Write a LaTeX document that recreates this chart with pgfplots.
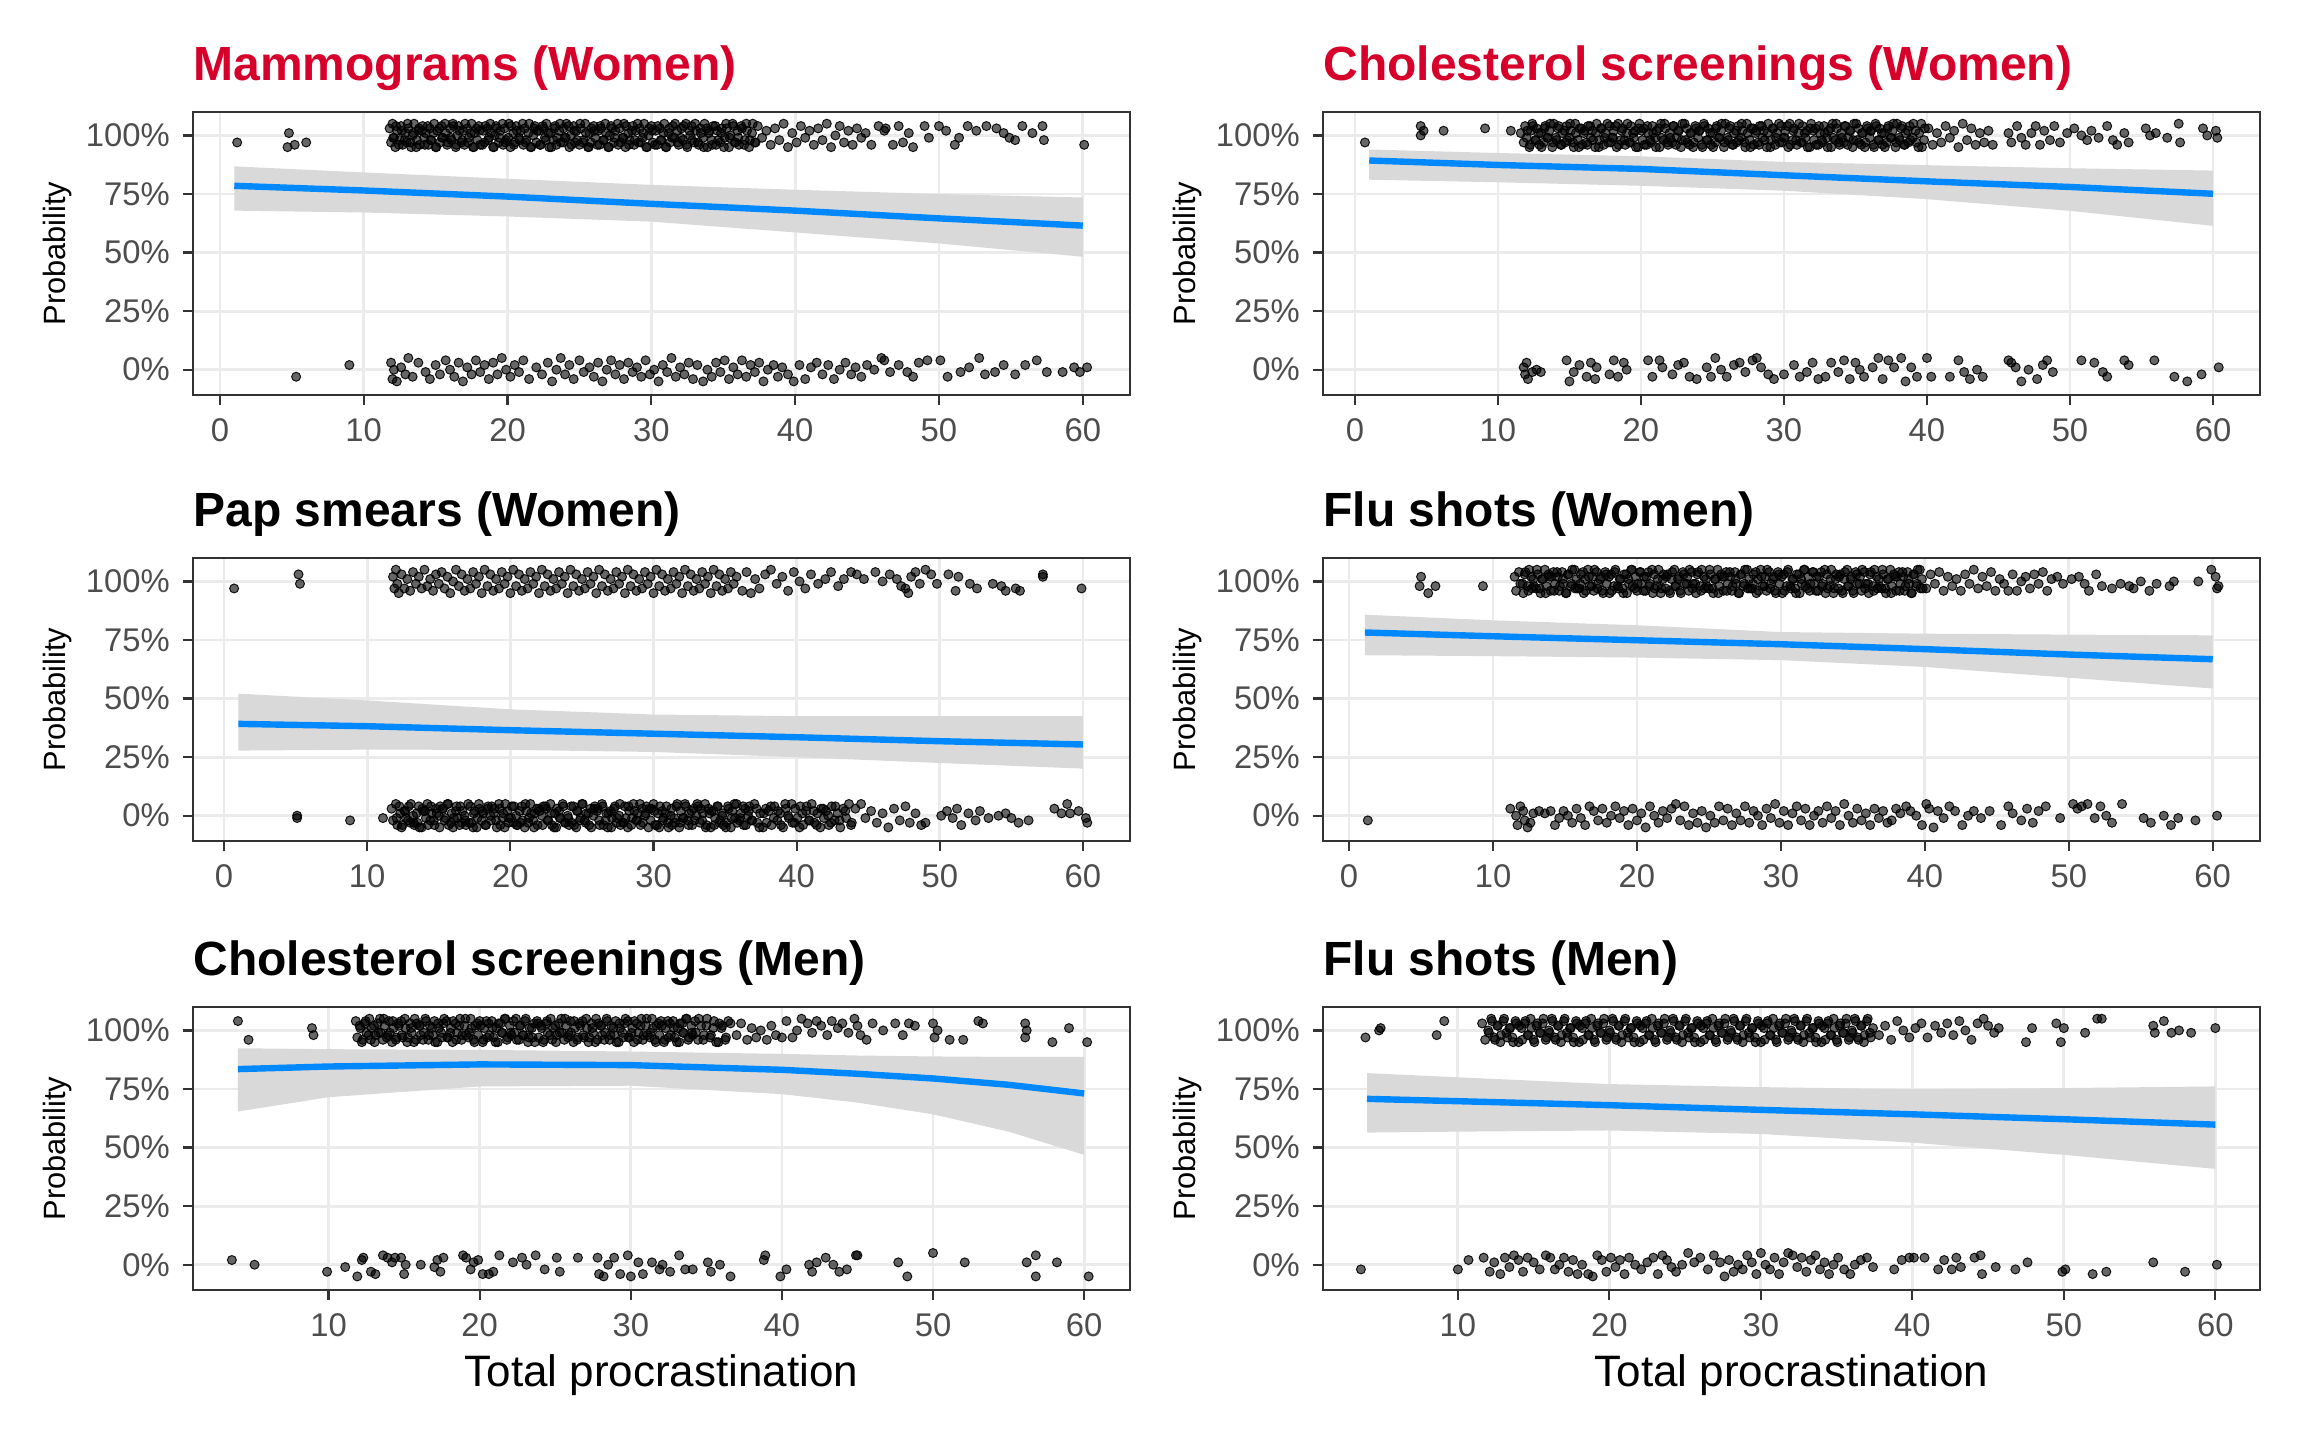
\documentclass[border=0pt]{standalone}
\usepackage{fontspec}
\setmainfont{Liberation Sans}
\usepackage{pgfplots}
\pgfplotsset{compat=1.18}
\definecolor{titlered}{RGB}{215,0,42}
\definecolor{smoothblue}{RGB}{0,136,255}
\definecolor{bandgray}{RGB}{217,217,217}
\definecolor{gridgray}{RGB}{235,235,235}
\definecolor{axisgray}{RGB}{51,51,51}
\definecolor{ticklab}{RGB}{77,77,77}
\pgfplotsset{
  panel/.style={
    width=234.4pt, height=70.75pt, scale only axis, anchor=south west,
    ymin=-0.108, ymax=1.10,
    ytick={0,0.25,0.5,0.75,1}, yticklabels={0\%,25\%,50\%,75\%,100\%},
    xtick={0,10,20,30,40,50,60}, xticklabels={0,10,20,30,40,50,60},
    xmajorgrids, ymajorgrids,
    grid style={gridgray, line width=0.7pt},
    axis line style={axisgray, line width=0.5pt},
    tick align=outside, xtick pos=left, ytick pos=left,
    major tick length=2.5pt,
    tick style={axisgray, line width=0.55pt},
    tick label style={font=\fontsize{8.2}{9}\selectfont, text=ticklab, inner sep=0pt},
    xticklabel style={yshift=-3.25pt},
    yticklabel style={xshift=-3pt},
    /pgf/number format/assume math mode=true,
  },
  pts/.style={only marks, mark=*, mark size=1.12pt, mark options={fill=black, fill opacity=0.6, draw=black, draw opacity=0.9, line width=0.25pt}},
  band/.style={fill=bandgray, draw=none},
  fit/.style={smoothblue, line width=1.6pt, no marks},
}
\tikzset{
  ttl/.style={anchor=base west, inner sep=0pt, font=\fontsize{12}{14}\selectfont\bfseries},
  ylab/.style={rotate=90, anchor=base, inner sep=0pt, font=\fontsize{7.7}{9}\selectfont},
}
\begin{document}
\begin{tikzpicture}
\useasboundingbox (0,0) rectangle (576pt,360pt);
% ---------------- Panel 1: Mammograms (Women)
\begin{axis}[panel, name=p1, at={(48.15pt,261.25pt)}, xmin=-1.9, xmax=63.3]
\addplot[band] coordinates {(1,0.868)(10,0.842)(20,0.815)(30,0.789)(40,0.768)(50,0.750)(60,0.735)(60,0.482)(50,0.539)(40,0.586)(30,0.632)(20,0.654)(10,0.671)(1,0.679)};
\addplot[pts] coordinates {(1.2,0.97)(4.7,0.95)(4.8,1.01)(5.2,0.96)(6.0,0.97)
(11.8,1.03)(11.9,0.97)(12.0,1.05)(12.1,0.99)(12.2,0.95)(12.3,1.02)(12.5,0.98)(12.6,1.04)(12.7,0.96)(12.9,1.01)(13.0,0.97)(13.1,1.03)(13.3,0.95)(13.4,1.00)(13.5,1.05)(13.7,0.98)(13.8,1.02)(13.9,0.96)(14.1,1.04)(14.2,0.99)(14.3,1.01)(14.5,0.96)(14.6,1.03)(14.7,0.98)(14.9,1.05)(15.0,0.95)(15.1,1.02)(15.3,0.97)(15.4,1.04)(15.5,0.99)(15.7,1.01)(15.8,0.96)(16.0,1.03)(16.1,0.98)(16.2,1.05)(16.4,0.95)(16.5,1.00)(16.6,1.04)(16.8,0.97)(16.9,1.02)(17.0,0.96)(17.2,1.03)(17.3,0.99)(17.5,1.05)(17.6,0.95)(17.7,1.01)(17.9,0.98)(18.0,1.04)(18.1,0.96)(18.3,1.02)(18.4,0.97)(18.6,1.03)(18.7,0.99)(18.8,1.05)(19.0,0.95)(19.1,1.00)(19.2,1.04)(19.4,0.97)(19.5,1.02)(19.7,0.96)(19.8,1.03)(19.9,0.98)
(20.1,1.05)(20.2,0.95)(20.4,1.01)(20.5,0.97)(20.6,1.04)(20.8,0.99)(20.9,1.02)(21.1,0.96)(21.2,1.03)(21.3,0.98)(21.5,1.05)(21.6,0.95)(21.8,1.00)(21.9,1.04)(22.0,0.97)(22.2,1.02)(22.3,0.96)(22.5,1.03)(22.6,0.99)(22.7,1.05)(22.9,0.95)(23.0,1.01)(23.2,0.98)(23.3,1.04)(23.4,0.96)(23.6,1.02)(23.7,0.97)(23.9,1.03)(24.0,0.99)(24.1,1.05)(24.3,0.95)(24.4,1.00)(24.6,1.04)(24.7,0.97)(24.8,1.02)(25.0,0.96)(25.1,1.03)(25.3,0.98)(25.4,1.05)(25.6,0.95)(25.7,1.01)(25.8,0.97)(26.0,1.04)(26.1,0.99)(26.3,1.02)(26.4,0.96)(26.5,1.03)(26.7,0.98)(26.8,1.05)(27.0,0.95)(27.1,1.00)(27.2,1.04)(27.4,0.97)(27.5,1.02)(27.7,0.96)(27.8,1.03)(28.0,0.99)(28.1,1.05)(28.2,0.95)(28.4,1.01)(28.5,0.98)(28.7,1.04)(28.8,0.96)(28.9,1.02)(29.1,0.97)(29.2,1.03)(29.4,0.99)(29.5,1.05)(29.7,0.95)(29.8,1.00)
(30.0,1.04)(30.1,0.97)(30.3,1.02)(30.4,0.96)(30.6,1.03)(30.7,0.98)(30.9,1.05)(31.0,0.95)(31.2,1.01)(31.3,0.97)(31.5,1.04)(31.6,0.99)(31.8,1.02)(31.9,0.96)(32.1,1.03)(32.2,0.98)(32.4,1.05)(32.5,0.95)(32.7,1.00)(32.8,1.04)(33.0,0.97)(33.1,1.02)(33.3,0.96)(33.4,1.03)(33.6,0.99)(33.7,1.05)(33.9,0.95)(34.0,1.01)(34.2,0.98)(34.3,1.04)(34.5,0.96)(34.6,1.02)(34.8,0.97)(34.9,1.03)(35.1,0.99)(35.2,1.05)(35.4,0.95)(35.5,1.00)(35.7,1.04)(35.8,0.97)(36.0,1.02)(36.1,0.96)(36.3,1.03)(36.5,0.98)(36.6,1.05)(36.8,0.95)(37.0,1.01)(37.2,0.97)(37.4,1.04)
(37.7,0.99)(38.0,1.02)(38.3,0.96)(38.6,1.03)(38.9,0.98)(39.2,1.05)(39.5,0.95)(39.8,1.01)(40.1,0.97)(40.4,1.04)(40.7,0.99)(41.0,1.02)(41.3,0.96)(41.6,1.03)(41.9,0.98)(42.2,1.05)(42.5,0.95)(42.8,1.00)(43.1,1.04)(43.4,0.97)(43.7,1.02)(44.0,0.96)(44.3,1.03)(44.6,0.99)(44.9,1.01)(45.3,0.96)(45.8,1.04)(46.2,1.02)(46.3,1.03)(46.8,0.96)(47.2,1.04)(47.5,0.97)(47.9,1.01)(48.2,0.95)
(49.0,1.04)(49.3,0.99)(50.0,1.04)(50.5,1.02)(51.1,0.96)(51.4,0.99)(52.0,1.04)(52.6,1.02)(53.3,1.04)(54.0,1.03)(54.5,1.01)(54.9,0.99)(55.3,0.98)(55.8,1.04)(56.5,1.01)(57.2,1.04)(57.3,0.98)(60.1,0.96)};
\addplot[pts] coordinates {(12.05,0.99)(12.25,1.04)(12.45,0.96)(12.65,1.02)(12.85,0.98)(13.05,1.05)(13.25,0.97)(13.45,1.01)(13.65,0.95)(13.85,1.03)
(14.05,1.02)(14.25,0.96)(14.45,1.04)(14.65,0.98)(14.85,1.01)(15.05,0.95)(15.25,1.03)(15.45,0.99)(15.65,1.05)(15.85,0.97)
(16.05,0.99)(16.25,1.04)(16.45,0.96)(16.65,1.02)(16.85,0.98)(17.05,1.05)(17.25,0.97)(17.45,1.01)(17.65,0.95)(17.85,1.03)
(18.05,1.02)(18.25,0.96)(18.45,1.04)(18.65,0.98)(18.85,1.01)(19.05,0.95)(19.25,1.03)(19.45,0.99)(19.65,1.05)(19.85,0.97)
(20.05,0.99)(20.25,1.04)(20.45,0.96)(20.65,1.02)(20.85,0.98)(21.05,1.05)(21.25,0.97)(21.45,1.01)(21.65,0.95)(21.85,1.03)
(22.05,1.02)(22.25,0.96)(22.45,1.04)(22.65,0.98)(22.85,1.01)(23.05,0.95)(23.25,1.03)(23.45,0.99)(23.65,1.05)(23.85,0.97)
(24.05,0.99)(24.25,1.04)(24.45,0.96)(24.65,1.02)(24.85,0.98)(25.05,1.05)(25.25,0.97)(25.45,1.01)(25.65,0.95)(25.85,1.03)
(26.05,1.02)(26.25,0.96)(26.45,1.04)(26.65,0.98)(26.85,1.01)(27.05,0.95)(27.25,1.03)(27.45,0.99)(27.65,1.05)(27.85,0.97)
(28.05,0.99)(28.25,1.04)(28.45,0.96)(28.65,1.02)(28.85,0.98)(29.05,1.05)(29.25,0.97)(29.45,1.01)(29.65,0.95)(29.85,1.03)
(30.05,1.02)(30.25,0.96)(30.45,1.04)(30.65,0.98)(30.85,1.01)(31.05,0.95)(31.25,1.03)(31.45,0.99)(31.65,1.05)(31.85,0.97)
(32.05,0.99)(32.25,1.04)(32.45,0.96)(32.65,1.02)(32.85,0.98)(33.05,1.05)(33.25,0.97)(33.45,1.01)(33.65,0.95)(33.85,1.03)
(34.05,1.02)(34.25,0.96)(34.45,1.04)(34.65,0.98)(34.85,1.01)(35.05,0.95)(35.25,1.03)(35.45,0.99)(35.65,1.05)(35.85,0.97)
(36.05,0.99)(36.25,1.04)(36.45,0.96)(36.65,1.02)(36.85,0.98)(37.05,1.05)(37.25,0.97)};
\addplot[pts] coordinates {(5.3,-0.03)(9.0,0.02)
(11.9,0.03)(12.0,-0.04)(12.1,0.00)(12.3,-0.05)(12.6,0.01)(12.9,-0.02)(13.1,0.05)(13.4,-0.03)(13.8,0.03)(14.3,-0.01)(14.6,-0.04)(15.0,0.02)(15.3,-0.02)(15.7,0.04)(16.0,0.00)(16.3,-0.03)(16.6,0.03)(16.9,-0.05)(17.2,0.01)(17.5,-0.02)(17.8,0.04)(18.1,-0.01)(18.4,0.02)(18.7,-0.04)(19.0,0.03)(19.3,-0.02)(19.6,0.05)(19.9,0.00)(20.2,-0.03)(20.5,0.02)(20.8,-0.01)(21.1,0.04)(21.5,-0.04)(22.0,0.01)(22.4,-0.02)(22.8,0.03)(23.1,-0.05)(23.4,0.00)(23.7,0.05)(24.0,-0.02)(24.3,0.02)(24.6,-0.04)(25.0,0.04)(25.3,-0.01)(25.7,0.01)(26.0,-0.03)(26.3,0.03)(26.6,-0.05)(26.9,0.00)(27.2,0.04)(27.5,-0.02)(27.8,0.02)(28.1,-0.04)(28.4,0.03)(28.7,-0.01)(29.0,0.01)(29.3,-0.03)(29.6,0.04)(29.9,-0.02)(30.2,0.00)(30.5,-0.05)(30.8,0.02)(31.1,-0.01)(31.4,0.05)(31.7,-0.03)(32.0,0.01)(32.3,-0.02)(32.6,0.03)(32.9,-0.04)(33.2,0.02)(33.6,-0.05)(33.9,0.00)(34.2,-0.03)(34.5,0.03)(34.8,-0.01)(35.1,0.04)(35.4,-0.04)(35.7,0.01)(36.0,-0.02)(36.3,0.04)(36.6,-0.03)(36.9,0.02)(37.2,-0.01)(37.5,0.03)(37.8,-0.05)(38.1,0.00)(38.5,0.02)(38.8,-0.03)(39.1,0.01)(39.5,-0.02)(39.9,-0.05)(40.3,0.02)(40.7,-0.04)(41.1,0.01)(41.5,0.03)(41.9,-0.02)(42.3,0.02)(42.7,-0.04)(43.1,0.00)(43.5,0.03)(43.9,-0.02)(44.2,0.01)(44.6,-0.03)(45.0,0.02)(45.5,0.00)(46.0,0.05)(46.2,0.04)(46.6,-0.01)(47.2,0.02)(47.8,-0.01)(48.2,-0.03)(48.6,0.03)(49.2,0.04)(50.1,0.04)(50.6,-0.03)(51.5,-0.01)(52.1,0.01)(52.8,0.05)(53.2,-0.02)(53.9,-0.01)(54.5,0.02)(55.3,-0.02)(56.0,0.02)(56.8,0.04)(57.5,-0.01)(58.6,-0.01)(59.4,0.01)(59.8,-0.01)(60.3,0.01)};
\addplot[fit] coordinates {(1,0.785)(10,0.765)(20,0.739)(30,0.708)(40,0.679)(50,0.646)(60,0.615)};
\end{axis}
% ---------------- Panel 2: Cholesterol screenings (Women)
\begin{axis}[panel, name=p2, at={(330.65pt,261.25pt)}, xmin=-2.26, xmax=63.3]
\addplot[band] coordinates {(1,0.94)(10,0.925)(20,0.911)(30,0.887)(40,0.873)(50,0.86)(60,0.85)(60,0.614)(50,0.678)(40,0.728)(30,0.764)(20,0.785)(10,0.80)(1,0.811)};
\addplot[pts] coordinates {(0.7,0.97)(4.6,1.04)(4.6,1.00)(4.8,1.02)(6.2,1.02)(9.1,1.03)(10.9,1.02)
(11.6,1.01)(11.8,0.97)(11.9,1.04)(12.0,0.99)(12.2,0.95)(12.3,1.02)(12.4,1.05)(12.6,0.98)(12.7,1.03)(12.9,0.96)(13.0,1.01)(13.2,0.97)(13.3,1.04)(13.5,0.99)(13.6,1.02)(13.8,0.95)(13.9,1.05)(14.1,0.98)(14.2,1.03)(14.4,0.96)(14.5,1.01)(14.7,0.97)(14.8,1.04)(15.0,0.99)(15.1,1.02)(15.3,0.95)(15.4,1.05)(15.6,0.98)(15.7,1.03)(15.9,0.96)(16.0,1.01)(16.2,0.97)(16.3,1.04)(16.5,0.99)(16.6,1.02)(16.8,0.95)(16.9,1.05)(17.1,0.98)(17.2,1.03)(17.4,0.96)(17.5,1.01)(17.7,0.97)(17.8,1.04)(18.0,0.99)(18.1,1.02)(18.3,0.95)(18.4,1.05)(18.6,0.98)(18.7,1.03)(18.9,0.96)(19.0,1.01)(19.2,0.97)(19.3,1.04)(19.5,0.99)(19.6,1.02)(19.8,0.95)(19.9,1.05)
(20.1,0.98)(20.2,1.03)(20.4,0.96)(20.5,1.01)(20.7,0.97)(20.8,1.04)(21.0,0.99)(21.1,1.02)(21.3,0.95)(21.4,1.05)(21.6,0.98)(21.7,1.03)(21.9,0.96)(22.0,1.01)(22.2,0.97)(22.3,1.04)(22.5,0.99)(22.6,1.02)(22.8,0.95)(22.9,1.05)(23.1,0.98)(23.2,1.03)(23.4,0.96)(23.5,1.01)(23.7,0.97)(23.8,1.04)(24.0,0.99)(24.1,1.02)(24.3,0.95)(24.4,1.05)(24.6,0.98)(24.7,1.03)(24.9,0.96)(25.0,1.01)(25.2,0.97)(25.3,1.04)(25.5,0.99)(25.6,1.02)(25.8,0.95)(25.9,1.05)(26.1,0.98)(26.2,1.03)(26.4,0.96)(26.5,1.01)(26.7,0.97)(26.8,1.04)(27.0,0.99)(27.1,1.02)(27.3,0.95)(27.4,1.05)(27.6,0.98)(27.7,1.03)(27.9,0.96)(28.0,1.01)(28.2,0.97)(28.3,1.04)(28.5,0.99)(28.6,1.02)(28.8,0.95)(28.9,1.05)(29.1,0.98)(29.2,1.03)(29.4,0.96)(29.5,1.01)(29.7,0.97)(29.8,1.04)
(30.0,0.99)(30.1,1.02)(30.3,0.95)(30.4,1.05)(30.6,0.98)(30.7,1.03)(30.9,0.96)(31.0,1.01)(31.2,0.97)(31.3,1.04)(31.5,0.99)(31.6,1.02)(31.8,0.95)(31.9,1.05)(32.1,0.98)(32.2,1.03)(32.4,0.96)(32.5,1.01)(32.7,0.97)(32.8,1.04)(33.0,0.99)(33.1,1.02)(33.3,0.95)(33.4,1.05)(33.6,0.98)(33.7,1.03)(33.9,0.96)(34.0,1.01)(34.2,0.97)(34.3,1.04)(34.5,0.99)(34.6,1.02)(34.8,0.95)(34.9,1.05)(35.1,0.98)(35.2,1.03)(35.4,0.96)(35.5,1.01)(35.7,0.97)(35.8,1.04)(36.0,0.99)(36.1,1.02)(36.3,0.95)(36.4,1.05)(36.6,0.98)(36.7,1.03)(36.9,0.96)(37.0,1.01)(37.2,0.97)(37.3,1.04)(37.5,0.99)(37.6,1.02)(37.8,0.95)(37.9,1.05)(38.1,0.98)(38.2,1.03)(38.4,0.96)(38.5,1.01)(38.7,0.97)(38.8,1.04)(39.0,0.99)(39.2,1.02)(39.4,0.95)(39.6,1.05)(39.8,0.98)
(40.1,1.03)(40.4,0.96)(40.7,1.01)(41.0,0.97)(41.3,1.04)(41.6,0.99)(41.9,1.02)(42.2,0.95)(42.5,1.05)(42.8,0.98)(43.1,1.03)(43.4,0.96)(43.7,1.01)(44.0,0.97)(44.3,1.02)(44.6,0.96)(45.7,1.01)(45.9,0.97)(46.3,1.04)(46.6,0.99)(46.9,0.96)(47.3,1.01)(47.6,1.04)(47.9,0.96)(48.2,1.02)(48.6,0.98)(48.9,1.04)(49.3,0.97)(49.8,1.01)
(50.3,1.03)(50.8,1.00)(51.2,0.98)(51.5,1.02)(52.0,0.99)(52.6,1.04)(53.0,0.98)(53.3,0.96)(53.8,1.01)(54.1,0.97)(55.3,1.03)(55.6,1.00)(56.0,1.01)(56.8,0.99)(57.6,1.05)(57.7,0.97)(59.3,1.03)(59.6,1.00)(60.2,1.02)(60.3,0.99)};
\addplot[pts] coordinates {(12.05,1.02)(12.25,0.96)(12.45,1.04)(12.65,0.98)(12.85,1.01)(13.05,0.95)(13.25,1.03)(13.45,0.99)(13.65,1.05)(13.85,0.97)
(14.05,0.99)(14.25,1.04)(14.45,0.96)(14.65,1.02)(14.85,0.98)(15.05,1.05)(15.25,0.97)(15.45,1.01)(15.65,0.95)(15.85,1.03)
(16.05,1.02)(16.25,0.96)(16.45,1.04)(16.65,0.98)(16.85,1.01)(17.05,0.95)(17.25,1.03)(17.45,0.99)(17.65,1.05)(17.85,0.97)
(18.05,0.99)(18.25,1.04)(18.45,0.96)(18.65,1.02)(18.85,0.98)(19.05,1.05)(19.25,0.97)(19.45,1.01)(19.65,0.95)(19.85,1.03)
(20.05,1.02)(20.25,0.96)(20.45,1.04)(20.65,0.98)(20.85,1.01)(21.05,0.95)(21.25,1.03)(21.45,0.99)(21.65,1.05)(21.85,0.97)
(22.05,0.99)(22.25,1.04)(22.45,0.96)(22.65,1.02)(22.85,0.98)(23.05,1.05)(23.25,0.97)(23.45,1.01)(23.65,0.95)(23.85,1.03)
(24.05,1.02)(24.25,0.96)(24.45,1.04)(24.65,0.98)(24.85,1.01)(25.05,0.95)(25.25,1.03)(25.45,0.99)(25.65,1.05)(25.85,0.97)
(26.05,0.99)(26.25,1.04)(26.45,0.96)(26.65,1.02)(26.85,0.98)(27.05,1.05)(27.25,0.97)(27.45,1.01)(27.65,0.95)(27.85,1.03)
(28.05,1.02)(28.25,0.96)(28.45,1.04)(28.65,0.98)(28.85,1.01)(29.05,0.95)(29.25,1.03)(29.45,0.99)(29.65,1.05)(29.85,0.97)
(30.05,0.99)(30.25,1.04)(30.45,0.96)(30.65,1.02)(30.85,0.98)(31.05,1.05)(31.25,0.97)(31.45,1.01)(31.65,0.95)(31.85,1.03)
(32.05,1.02)(32.25,0.96)(32.45,1.04)(32.65,0.98)(32.85,1.01)(33.05,0.95)(33.25,1.03)(33.45,0.99)(33.65,1.05)(33.85,0.97)
(34.05,0.99)(34.25,1.04)(34.45,0.96)(34.65,1.02)(34.85,0.98)(35.05,1.05)(35.25,0.97)(35.45,1.01)(35.65,0.95)(35.85,1.03)
(36.05,1.02)(36.25,0.96)(36.45,1.04)(36.65,0.98)(36.85,1.01)(37.05,0.95)(37.25,1.03)(37.45,0.99)(37.65,1.05)(37.85,0.97)
(38.05,0.99)(38.25,1.04)(38.45,0.96)(38.65,1.02)(38.85,0.98)(39.05,1.05)(39.25,0.97)(39.45,1.01)(39.65,0.95)(39.85,1.03)};
\addplot[pts] coordinates {(11.8,0.01)(11.9,-0.02)(12.0,0.03)(12.1,-0.04)(12.4,-0.01)(12.7,0.00)(13.0,-0.01)(14.8,0.04)(15.0,-0.05)(15.3,-0.01)(15.7,0.02)(16.2,-0.03)(16.5,0.03)(16.8,-0.04)(16.9,0.01)(17.8,-0.02)(18.1,0.04)(18.4,-0.03)(18.8,0.03)(19.0,0.00)(20.5,0.04)(20.8,-0.03)(21.3,0.04)(21.5,0.01)(22.2,-0.02)(22.6,0.02)(23.0,0.03)(23.4,-0.03)(23.9,-0.04)(24.6,0.01)(24.9,-0.03)(25.2,0.05)(25.6,0.00)(26.0,-0.03)(26.5,0.02)(26.9,0.03)(27.3,-0.01)(27.8,0.04)(28.1,0.05)(28.4,0.01)(28.9,-0.02)(29.3,-0.04)(30.0,-0.02)(30.7,0.02)(31.1,-0.03)(31.6,-0.01)(32.0,0.03)(32.4,-0.04)(32.9,-0.03)(33.3,0.03)(33.8,-0.01)(34.2,0.04)(34.6,-0.04)(35.0,0.03)(35.3,0.00)(35.6,-0.03)(36.2,0.01)(36.6,0.05)(36.9,-0.04)(37.3,0.04)(37.7,0.01)(38.2,0.05)(38.5,-0.05)(38.9,0.01)(39.3,-0.03)(40.0,0.05)(40.3,-0.03)(41.6,-0.03)(42.2,0.04)(42.6,-0.01)(43.0,-0.04)(43.5,0.00)(43.9,-0.03)(45.7,0.04)(45.9,0.03)(46.2,0.01)(46.6,-0.05)(47.1,0.00)(47.7,-0.04)(48.1,0.02)(48.4,0.04)(48.8,-0.01)(50.8,0.04)(51.7,0.03)(52.3,-0.01)(52.6,-0.03)(53.8,0.04)(54.1,0.02)(55.9,0.04)(57.3,-0.03)(58.2,-0.05)(59.2,-0.02)(60.4,0.01)};
\addplot[fit] coordinates {(1,0.893)(10,0.874)(20,0.857)(30,0.83)(40,0.804)(50,0.78)(60,0.751)};
\end{axis}
% ---------------- Panel 3: Pap smears (Women)
\begin{axis}[panel, name=p3, at={(48.15pt,149.75pt)}, xmin=-2.2, xmax=63.3]
\addplot[band] coordinates {(1,0.521)(10,0.492)(20,0.454)(30,0.432)(40,0.425)(50,0.425)(60,0.425)(60,0.201)(50,0.225)(40,0.25)(30,0.272)(20,0.281)(10,0.282)(1,0.278)};
\addplot[pts] coordinates {(0.7,0.97)(5.2,1.03)(5.3,0.99)
(11.8,1.02)(11.9,0.97)(12.0,1.05)(12.1,0.99)(12.2,0.95)(12.4,1.03)(12.6,0.97)(12.8,1.01)(13.0,0.96)(13.2,1.04)(13.4,0.99)(13.6,1.02)(13.8,0.97)(14.0,1.05)(14.2,0.98)(14.4,1.01)(14.6,0.96)(14.8,1.03)(15.0,0.99)(15.2,1.04)(15.4,0.97)(15.6,1.02)(15.8,0.95)(16.0,1.00)(16.2,1.05)(16.4,0.98)(16.6,1.03)(16.8,0.96)(17.0,1.01)(17.2,0.97)(17.4,1.04)(17.6,0.99)(17.8,1.02)(18.0,0.95)(18.2,1.05)(18.4,0.98)(18.6,1.03)(18.8,0.96)(19.0,1.01)(19.2,0.97)(19.4,1.04)(19.6,0.99)(19.8,1.02)(20.0,0.95)(20.2,1.05)(20.4,0.98)(20.6,1.03)(20.8,0.96)(21.0,1.01)(21.2,0.97)(21.4,1.04)(21.6,0.99)(21.8,1.02)(22.0,0.95)(22.2,1.05)(22.4,0.98)(22.6,1.03)(22.8,0.96)(23.0,1.01)(23.2,0.97)(23.4,1.04)(23.6,0.99)(23.8,1.02)(24.0,0.95)(24.2,1.05)(24.4,0.98)(24.6,1.03)(24.8,0.96)(25.0,1.01)(25.2,0.97)(25.4,1.04)(25.6,0.99)(25.8,1.02)(26.0,0.95)(26.2,1.05)(26.4,0.98)(26.6,1.03)(26.8,0.96)(27.0,1.01)(27.2,0.97)(27.4,1.04)(27.6,0.99)(27.8,1.02)(28.0,0.95)(28.2,1.05)(28.4,0.98)(28.6,1.03)(28.8,0.96)(29.0,1.01)(29.2,0.97)(29.4,1.04)(29.6,0.99)(29.8,1.02)(30.0,0.95)(30.2,1.05)(30.4,0.98)(30.6,1.03)(30.8,0.96)(31.0,1.01)(31.2,0.97)(31.4,1.04)(31.6,0.99)(31.8,1.02)(32.0,0.95)(32.2,1.05)(32.4,0.98)(32.6,1.03)(32.8,0.96)(33.0,1.01)(33.2,0.97)(33.4,1.04)(33.6,0.99)(33.8,1.02)(34.0,0.95)(34.2,1.05)(34.4,0.98)(34.6,1.03)(34.8,0.96)(35.0,1.01)(35.2,0.97)(35.4,1.04)(35.6,0.99)(35.8,1.02)
(36.2,0.96)(36.5,1.04)(36.8,0.95)(37.1,1.01)(37.4,0.97)(37.8,1.03)(38.2,1.05)(38.6,0.99)(39.0,1.02)(39.4,0.96)(39.8,1.04)(40.2,1.00)(40.6,0.97)(41.0,1.03)(41.5,0.99)(42.0,1.01)(42.4,1.04)(42.9,0.98)(43.3,1.01)(43.8,1.04)(44.2,1.03)(44.7,1.01)(45.5,1.04)(46.0,1.00)(46.5,1.03)(47.0,1.01)(47.3,0.98)(47.6,0.97)(47.8,0.95)(48.0,1.02)(48.3,1.04)(48.6,0.99)(49.0,1.05)(49.4,1.03)(49.8,0.99)
(50.6,1.03)(51.3,1.02)(51.1,0.96)(52.1,0.99)(52.6,0.97)(53.7,0.99)(54.3,0.98)(54.6,0.96)(55.3,0.97)(55.6,0.96)(57.2,1.03)(57.2,1.02)(59.9,0.97)};
\addplot[pts] coordinates {(5.1,0.00)(5.1,-0.01)(8.8,-0.02)(11.1,-0.01)
(11.7,0.03)(11.8,-0.02)(12.0,0.05)(12.1,-0.04)(12.3,0.01)(12.4,-0.05)(12.6,0.02)(12.7,-0.01)(12.9,0.04)(13.0,-0.03)(13.2,0.00)(13.3,-0.04)
(13.5,-0.03)(13.6,0.04)(13.8,-0.05)(13.9,0.02)(14.1,-0.01)(14.2,0.05)(14.4,-0.02)(14.5,0.01)(14.7,-0.04)(14.8,0.03)(15.0,0.00)(15.1,0.04)
(15.3,0.03)(15.4,-0.02)(15.6,0.05)(15.7,-0.04)(15.9,0.01)(16.0,-0.05)(16.2,0.02)(16.3,-0.01)(16.5,0.04)(16.6,-0.03)(16.8,0.00)(16.9,-0.04)
(17.1,-0.03)(17.2,0.04)(17.4,-0.05)(17.5,0.02)(17.7,-0.01)(17.8,0.05)(18.0,-0.02)(18.1,0.01)(18.3,-0.04)(18.4,0.03)(18.6,0.00)(18.7,0.04)
(18.9,0.03)(19.0,-0.02)(19.2,0.05)(19.3,-0.04)(19.5,0.01)(19.6,-0.05)(19.8,0.02)(19.9,-0.01)(20.1,0.04)(20.2,-0.03)(20.4,0.00)(20.5,-0.04)
(20.7,-0.03)(20.8,0.04)(21.0,-0.05)(21.1,0.02)(21.3,-0.01)(21.4,0.05)(21.6,-0.02)(21.7,0.01)(21.9,-0.04)(22.0,0.03)(22.2,0.00)(22.3,0.04)
(22.5,0.03)(22.6,-0.02)(22.8,0.05)(22.9,-0.04)(23.1,0.01)(23.2,-0.05)(23.4,0.02)(23.5,-0.01)(23.7,0.04)(23.8,-0.03)(24.0,0.00)(24.1,-0.04)
(24.3,-0.03)(24.4,0.04)(24.6,-0.05)(24.7,0.02)(24.9,-0.01)(25.0,0.05)(25.2,-0.02)(25.3,0.01)(25.5,-0.04)(25.6,0.03)(25.8,0.00)(25.9,0.04)
(26.1,0.03)(26.2,-0.02)(26.4,0.05)(26.5,-0.04)(26.7,0.01)(26.8,-0.05)(27.0,0.02)(27.1,-0.01)(27.3,0.04)(27.4,-0.03)(27.6,0.00)(27.7,-0.04)
(27.9,-0.03)(28.0,0.04)(28.2,-0.05)(28.3,0.02)(28.5,-0.01)(28.6,0.05)(28.8,-0.02)(28.9,0.01)(29.1,-0.04)(29.2,0.03)(29.4,0.00)(29.5,0.04)
(29.7,0.03)(29.8,-0.02)(30.0,0.05)(30.1,-0.04)(30.3,0.01)(30.4,-0.05)(30.6,0.02)(30.7,-0.01)(30.9,0.04)(31.0,-0.03)(31.2,0.00)(31.3,-0.04)
(31.5,-0.03)(31.6,0.04)(31.8,-0.05)(31.9,0.02)(32.1,-0.01)(32.2,0.05)(32.4,-0.02)(32.5,0.01)(32.7,-0.04)(32.8,0.03)(33.0,0.00)(33.1,0.04)
(33.3,0.03)(33.4,-0.02)(33.6,0.05)(33.7,-0.04)(33.9,0.01)(34.0,-0.05)(34.2,0.02)(34.3,-0.01)(34.5,0.04)(34.6,-0.03)(34.8,0.00)(34.9,-0.04)
(35.1,-0.03)(35.2,0.04)(35.4,-0.05)(35.5,0.02)(35.7,-0.01)(35.8,0.05)(36.0,-0.02)(36.1,0.01)(36.3,-0.04)(36.4,0.03)(36.6,0.00)(36.7,0.04)
(36.9,-0.02)(37.2,0.03)(37.4,-0.05)(37.7,0.01)(37.9,-0.03)(38.2,0.04)(38.4,-0.01)(38.7,0.02)(38.9,-0.04)(39.2,0.05)(39.4,0.00)(39.7,-0.03)(39.9,0.03)(40.2,-0.05)(40.4,0.01)(40.7,0.04)(40.9,-0.02)(41.2,0.02)(41.4,-0.04)(41.7,0.03)(41.9,-0.01)(42.2,0.00)(42.4,-0.03)(42.7,0.04)(43.0,-0.02)(43.4,0.02)(43.8,-0.04)(44.1,0.03)(44.5,0.05)(44.8,-0.01)(45.2,0.02)(45.6,-0.03)(46.0,0.01)(46.4,-0.05)(46.8,0.03)(47.2,-0.02)(47.6,0.04)(47.9,-0.03)(48.3,0.01)(48.7,-0.04)(49.0,-0.03)
(50.1,0.00)(50.5,0.02)(50.9,-0.01)(51.2,0.03)(51.5,-0.04)(52.0,0.01)(52.5,-0.02)(52.8,0.02)(53.4,-0.01)(54.1,0.00)(54.6,0.01)(55.0,-0.01)(55.5,-0.03)(56.2,-0.02)(58.0,0.03)(58.5,0.01)(58.9,0.05)(59.1,0.01)(59.7,0.02)(60.2,-0.01)(60.3,-0.03)};
\addplot[pts] coordinates {(12.05,-0.01)(12.25,0.04)(12.45,-0.04)(12.65,0.02)(12.85,-0.02)(13.05,0.05)(13.25,-0.03)(13.45,0.01)(13.65,-0.05)(13.85,0.03)
(14.05,0.02)(14.25,-0.04)(14.45,0.04)(14.65,-0.02)(14.85,0.01)(15.05,-0.05)(15.25,0.03)(15.45,-0.01)(15.65,0.05)(15.85,-0.03)
(16.05,-0.01)(16.25,0.04)(16.45,-0.04)(16.65,0.02)(16.85,-0.02)(17.05,0.05)(17.25,-0.03)(17.45,0.01)(17.65,-0.05)(17.85,0.03)
(18.05,0.02)(18.25,-0.04)(18.45,0.04)(18.65,-0.02)(18.85,0.01)(19.05,-0.05)(19.25,0.03)(19.45,-0.01)(19.65,0.05)(19.85,-0.03)
(20.05,-0.01)(20.25,0.04)(20.45,-0.04)(20.65,0.02)(20.85,-0.02)(21.05,0.05)(21.25,-0.03)(21.45,0.01)(21.65,-0.05)(21.85,0.03)
(22.05,0.02)(22.25,-0.04)(22.45,0.04)(22.65,-0.02)(22.85,0.01)(23.05,-0.05)(23.25,0.03)(23.45,-0.01)(23.65,0.05)(23.85,-0.03)
(24.05,-0.01)(24.25,0.04)(24.45,-0.04)(24.65,0.02)(24.85,-0.02)(25.05,0.05)(25.25,-0.03)(25.45,0.01)(25.65,-0.05)(25.85,0.03)
(26.05,0.02)(26.25,-0.04)(26.45,0.04)(26.65,-0.02)(26.85,0.01)(27.05,-0.05)(27.25,0.03)(27.45,-0.01)(27.65,0.05)(27.85,-0.03)
(28.05,-0.01)(28.25,0.04)(28.45,-0.04)(28.65,0.02)(28.85,-0.02)(29.05,0.05)(29.25,-0.03)(29.45,0.01)(29.65,-0.05)(29.85,0.03)
(30.05,0.02)(30.25,-0.04)(30.45,0.04)(30.65,-0.02)(30.85,0.01)(31.05,-0.05)(31.25,0.03)(31.45,-0.01)(31.65,0.05)(31.85,-0.03)
(32.05,-0.01)(32.25,0.04)(32.45,-0.04)(32.65,0.02)(32.85,-0.02)(33.05,0.05)(33.25,-0.03)(33.45,0.01)(33.65,-0.05)(33.85,0.03)
(34.05,0.02)(34.25,-0.04)(34.45,0.04)(34.65,-0.02)(34.85,0.01)(35.05,-0.05)(35.25,0.03)(35.45,-0.01)(35.65,0.05)(35.85,-0.03)
(36.05,-0.01)(36.25,0.04)(36.45,-0.04)(36.65,0.02)(36.85,-0.02)(37.05,0.05)(37.25,-0.03)(37.45,0.01)(37.65,-0.05)(37.85,0.03)
(38.05,0.02)(38.25,-0.04)(38.45,0.04)(38.65,-0.02)(38.85,0.01)(39.05,-0.05)(39.25,0.03)(39.45,-0.01)(39.65,0.05)(39.85,-0.03)
(40.05,-0.01)(40.25,0.04)(40.45,-0.04)(40.65,0.02)(40.85,-0.02)(41.05,0.05)(41.25,-0.03)(41.45,0.01)(41.65,-0.05)(41.85,0.03)
(42.05,0.02)(42.25,-0.04)(42.45,0.04)(42.65,-0.02)(42.85,0.01)(43.05,-0.05)(43.25,0.03)(43.45,-0.01)(43.65,0.05)(43.85,-0.03)};
\addplot[fit] coordinates {(1,0.392)(10,0.382)(20,0.365)(30,0.35)(40,0.335)(50,0.318)(60,0.304)};
\end{axis}
% ---------------- Panel 4: Flu shots (Women)
\begin{axis}[panel, name=p4, at={(330.65pt,149.75pt)}, xmin=-1.84, xmax=63.3]
\addplot[band] coordinates {(1.1,0.858)(10,0.834)(20,0.813)(30,0.784)(40,0.777)(50,0.773)(60,0.770)(60,0.543)(50,0.589)(40,0.635)(30,0.664)(20,0.675)(10,0.681)(1.1,0.685)};
\addplot[pts] coordinates {(4.9,0.98)(5.0,1.02)(5.5,0.95)(6.0,0.98)(9.3,0.98)
(11.5,1.02)(11.6,0.96)(11.8,1.04)(11.9,0.99)(12.1,0.95)(12.2,1.03)(12.4,0.98)(12.5,1.05)(12.7,0.97)(12.8,1.01)
(13.0,0.97)(13.1,1.03)(13.3,0.95)(13.4,1.01)(13.6,1.05)(13.7,0.98)(13.9,1.02)(14.0,0.96)(14.2,1.04)(14.3,0.99)
(14.5,1.02)(14.6,0.96)(14.8,1.04)(14.9,0.99)(15.1,0.95)(15.2,1.03)(15.4,0.98)(15.5,1.05)(15.7,0.97)(15.8,1.01)
(16.0,0.97)(16.1,1.03)(16.3,0.95)(16.4,1.01)(16.6,1.05)(16.7,0.98)(16.9,1.02)(17.0,0.96)(17.2,1.04)(17.3,0.99)
(17.5,1.02)(17.6,0.96)(17.8,1.04)(17.9,0.99)(18.1,0.95)(18.2,1.03)(18.4,0.98)(18.5,1.05)(18.7,0.97)(18.8,1.01)
(19.0,0.97)(19.1,1.03)(19.3,0.95)(19.4,1.01)(19.6,1.05)(19.7,0.98)(19.9,1.02)(20.0,0.96)(20.2,1.04)(20.3,0.99)
(20.5,1.02)(20.6,0.96)(20.8,1.04)(20.9,0.99)(21.1,0.95)(21.2,1.03)(21.4,0.98)(21.5,1.05)(21.7,0.97)(21.8,1.01)
(22.0,0.97)(22.1,1.03)(22.3,0.95)(22.4,1.01)(22.6,1.05)(22.7,0.98)(22.9,1.02)(23.0,0.96)(23.2,1.04)(23.3,0.99)
(23.5,1.02)(23.6,0.96)(23.8,1.04)(23.9,0.99)(24.1,0.95)(24.2,1.03)(24.4,0.98)(24.5,1.05)(24.7,0.97)(24.8,1.01)
(25.0,0.97)(25.1,1.03)(25.3,0.95)(25.4,1.01)(25.6,1.05)(25.7,0.98)(25.9,1.02)(26.0,0.96)(26.2,1.04)(26.3,0.99)
(26.5,1.02)(26.6,0.96)(26.8,1.04)(26.9,0.99)(27.1,0.95)(27.2,1.03)(27.4,0.98)(27.5,1.05)(27.7,0.97)(27.8,1.01)
(28.0,0.97)(28.1,1.03)(28.3,0.95)(28.4,1.01)(28.6,1.05)(28.7,0.98)(28.9,1.02)(29.0,0.96)(29.2,1.04)(29.3,0.99)
(29.5,1.02)(29.6,0.96)(29.8,1.04)(29.9,0.99)(30.1,0.95)(30.2,1.03)(30.4,0.98)(30.5,1.05)(30.7,0.97)(30.8,1.01)
(31.0,0.97)(31.1,1.03)(31.3,0.95)(31.4,1.01)(31.6,1.05)(31.7,0.98)(31.9,1.02)(32.0,0.96)(32.2,1.04)(32.3,0.99)
(32.5,1.02)(32.6,0.96)(32.8,1.04)(32.9,0.99)(33.1,0.95)(33.2,1.03)(33.4,0.98)(33.5,1.05)(33.7,0.97)(33.8,1.01)
(34.0,0.97)(34.1,1.03)(34.3,0.95)(34.4,1.01)(34.6,1.05)(34.7,0.98)(34.9,1.02)(35.0,0.96)(35.2,1.04)(35.3,0.99)
(35.5,1.02)(35.6,0.96)(35.8,1.04)(35.9,0.99)(36.1,0.95)(36.2,1.03)(36.4,0.98)(36.5,1.05)(36.7,0.97)(36.8,1.01)
(37.0,0.97)(37.1,1.03)(37.3,0.95)(37.4,1.01)(37.6,1.05)(37.7,0.98)(37.9,1.02)(38.0,0.96)(38.2,1.04)(38.3,0.99)
(38.5,1.02)(38.6,0.96)(38.8,1.04)(38.9,0.99)(39.1,0.95)(39.2,1.03)(39.4,0.98)(39.5,1.05)(39.7,0.97)(39.8,1.01)
(40.1,0.97)(40.4,1.03)(40.7,0.99)(41.0,1.04)(41.3,0.96)(41.6,1.02)(41.9,0.98)(42.2,1.01)(42.5,0.96)(42.8,1.03)(43.1,0.99)(43.4,1.05)(43.7,0.97)(44.0,1.02)(44.3,0.98)(44.6,1.04)(44.9,0.96)(45.2,1.01)(45.5,0.99)(45.8,0.96)(46.1,1.03)(46.4,0.96)(46.7,1.00)(47.0,1.02)(47.3,0.97)(47.6,1.03)(47.9,0.99)(48.2,1.04)(48.5,0.96)(48.8,1.01)(49.2,1.02)(49.6,0.99)
(50.2,1.01)(50.7,1.02)(51.1,0.99)(51.4,0.96)(51.9,1.03)(52.3,0.98)(53.0,0.97)(53.6,0.99)(54.2,0.98)(54.5,0.97)(55.0,1.00)(55.6,0.96)(56.1,0.99)(57.0,0.98)(57.3,1.00)(59.0,1.00)(59.9,1.05)(60.2,1.02)(60.4,0.98)(60.3,0.97)};
\addplot[pts] coordinates {(12.05,0.99)(12.25,1.04)(12.45,0.96)(12.65,1.02)(12.85,0.98)(13.05,1.05)(13.25,0.97)(13.45,1.01)(13.65,0.95)(13.85,1.03)
(14.05,1.02)(14.25,0.96)(14.45,1.04)(14.65,0.98)(14.85,1.01)(15.05,0.95)(15.25,1.03)(15.45,0.99)(15.65,1.05)(15.85,0.97)
(16.05,0.99)(16.25,1.04)(16.45,0.96)(16.65,1.02)(16.85,0.98)(17.05,1.05)(17.25,0.97)(17.45,1.01)(17.65,0.95)(17.85,1.03)
(18.05,1.02)(18.25,0.96)(18.45,1.04)(18.65,0.98)(18.85,1.01)(19.05,0.95)(19.25,1.03)(19.45,0.99)(19.65,1.05)(19.85,0.97)
(20.05,0.99)(20.25,1.04)(20.45,0.96)(20.65,1.02)(20.85,0.98)(21.05,1.05)(21.25,0.97)(21.45,1.01)(21.65,0.95)(21.85,1.03)
(22.05,1.02)(22.25,0.96)(22.45,1.04)(22.65,0.98)(22.85,1.01)(23.05,0.95)(23.25,1.03)(23.45,0.99)(23.65,1.05)(23.85,0.97)
(24.05,0.99)(24.25,1.04)(24.45,0.96)(24.65,1.02)(24.85,0.98)(25.05,1.05)(25.25,0.97)(25.45,1.01)(25.65,0.95)(25.85,1.03)
(26.05,1.02)(26.25,0.96)(26.45,1.04)(26.65,0.98)(26.85,1.01)(27.05,0.95)(27.25,1.03)(27.45,0.99)(27.65,1.05)(27.85,0.97)
(28.05,0.99)(28.25,1.04)(28.45,0.96)(28.65,1.02)(28.85,0.98)(29.05,1.05)(29.25,0.97)(29.45,1.01)(29.65,0.95)(29.85,1.03)
(30.05,1.02)(30.25,0.96)(30.45,1.04)(30.65,0.98)(30.85,1.01)(31.05,0.95)(31.25,1.03)(31.45,0.99)(31.65,1.05)(31.85,0.97)
(32.05,0.99)(32.25,1.04)(32.45,0.96)(32.65,1.02)(32.85,0.98)(33.05,1.05)(33.25,0.97)(33.45,1.01)(33.65,0.95)(33.85,1.03)
(34.05,1.02)(34.25,0.96)(34.45,1.04)(34.65,0.98)(34.85,1.01)(35.05,0.95)(35.25,1.03)(35.45,0.99)(35.65,1.05)(35.85,0.97)
(36.05,0.99)(36.25,1.04)(36.45,0.96)(36.65,1.02)(36.85,0.98)(37.05,1.05)(37.25,0.97)(37.45,1.01)(37.65,0.95)(37.85,1.03)
(38.05,1.02)(38.25,0.96)(38.45,1.04)(38.65,0.98)(38.85,1.01)(39.05,0.95)(39.25,1.03)(39.45,0.99)(39.65,1.05)(39.85,0.97)};
\addplot[pts] coordinates {(1.3,-0.02)
(11.2,0.03)(11.6,0.00)(11.7,-0.04)(11.9,0.04)(12.1,0.02)(12.2,-0.02)(12.4,-0.05)(12.6,-0.03)(12.8,0.01)(13.2,0.02)(13.6,0.01)(14.0,0.02)(14.3,-0.04)(14.6,-0.01)(14.9,0.02)(15.2,0.00)(15.5,-0.03)(15.8,0.03)(16.1,-0.01)(16.4,-0.04)(16.7,0.04)(17.0,0.02)(17.3,-0.02)(17.6,0.03)(17.9,-0.03)(18.2,0.00)(18.5,0.04)(18.8,-0.01)(19.1,0.02)(19.4,-0.04)(19.7,0.03)(20.0,-0.02)(20.3,0.01)(20.6,-0.05)(20.9,0.04)(21.2,0.00)(21.5,-0.03)(21.8,0.02)(22.1,-0.01)(22.4,0.03)(22.7,0.05)(23.0,-0.02)(23.3,0.04)(23.6,-0.04)(23.9,0.01)(24.2,-0.03)(24.5,0.02)(24.8,-0.05)(25.1,0.00)(25.4,-0.03)(25.7,0.04)(26.0,-0.02)(26.3,0.03)(26.6,-0.04)(26.9,0.01)(27.2,-0.02)(27.5,0.04)(27.8,-0.03)(28.1,0.02)(28.4,0.00)(28.7,-0.04)(29.0,0.03)(29.3,-0.01)(29.6,0.05)(29.9,-0.03)(30.2,0.02)(30.5,-0.04)(30.8,0.01)(31.1,0.04)(31.4,-0.02)(31.7,0.03)(32.0,-0.04)(32.3,0.00)(32.6,0.02)(32.9,-0.03)(33.2,0.04)(33.5,-0.01)(33.8,0.02)(34.1,-0.04)(34.4,0.05)(34.7,0.00)(35.0,-0.03)(35.3,0.03)(35.6,-0.02)(35.9,0.01)(36.2,-0.04)(36.5,0.03)(36.8,-0.01)(37.1,0.02)(37.4,-0.03)(37.7,-0.02)(38.0,0.03)(38.3,0.01)(38.7,0.04)(39.0,0.02)(39.4,0.00)(39.8,-0.04)(40.1,0.05)(40.3,0.03)(40.6,-0.05)(40.9,0.02)(41.3,-0.01)(41.7,0.04)(42.1,0.02)(42.6,-0.04)(43.0,0.00)(43.4,0.02)(43.9,-0.01)(44.5,0.02)(45.3,-0.04)(45.8,0.04)(46.1,0.01)(46.7,-0.02)(47.1,0.03)(47.5,-0.03)(47.9,0.02)(48.4,0.04)(49.4,-0.01)(50.3,0.05)(50.6,0.03)(50.9,0.04)(51.3,0.05)(51.8,-0.01)(52.2,0.04)(52.6,0.00)(53.0,-0.03)(53.7,0.05)(55.2,-0.01)(55.7,-0.03)(56.6,0.00)(57.1,-0.04)(57.6,-0.01)(58.8,-0.02)(60.3,0.00)};
\addplot[fit] coordinates {(1.1,0.782)(10,0.766)(20,0.749)(30,0.732)(40,0.711)(50,0.688)(60,0.668)};
\end{axis}
% ---------------- Panel 5: Cholesterol screenings (Men)
\begin{axis}[panel, name=p5, at={(48.15pt,37.5pt)}, xmin=1.0, xmax=63.05]
\addplot[band] coordinates {(4,0.924)(10,0.92)(20,0.917)(30,0.91)(40,0.90)(45,0.893)(50,0.889)(55,0.887)(60,0.887)(60,0.469)(55,0.568)(50,0.642)(45,0.692)(40,0.728)(30,0.764)(20,0.761)(10,0.715)(4,0.654)};
\addplot[pts] coordinates {(4.0,1.04)(4.7,0.96)(8.9,1.01)(9.0,0.98)
(11.8,1.04)(11.9,0.97)(12.1,1.01)(12.2,0.95)(12.4,1.03)(12.5,0.99)(12.7,1.05)(12.8,0.96)(13.0,1.02)(13.1,0.98)
(13.3,0.99)(13.4,1.05)(13.6,0.96)(13.7,1.02)(13.9,0.98)(14.0,1.04)(14.2,0.95)(14.3,1.01)(14.5,0.97)(14.6,1.03)
(14.8,1.04)(14.9,0.97)(15.1,1.01)(15.2,0.95)(15.4,1.03)(15.5,0.99)(15.7,1.05)(15.8,0.96)(16.0,1.02)(16.1,0.98)
(16.3,0.99)(16.4,1.05)(16.6,0.96)(16.7,1.02)(16.9,0.98)(17.0,1.04)(17.2,0.95)(17.3,1.01)(17.5,0.97)(17.6,1.03)
(17.8,1.04)(17.9,0.97)(18.1,1.01)(18.2,0.95)(18.4,1.03)(18.5,0.99)(18.7,1.05)(18.8,0.96)(19.0,1.02)(19.1,0.98)
(19.3,0.99)(19.4,1.05)(19.6,0.96)(19.7,1.02)(19.9,0.98)(20.0,1.04)(20.2,0.95)(20.3,1.01)(20.5,0.97)(20.6,1.03)
(20.8,1.04)(20.9,0.97)(21.1,1.01)(21.2,0.95)(21.4,1.03)(21.5,0.99)(21.7,1.05)(21.8,0.96)(22.0,1.02)(22.1,0.98)
(22.3,0.99)(22.4,1.05)(22.6,0.96)(22.7,1.02)(22.9,0.98)(23.0,1.04)(23.2,0.95)(23.3,1.01)(23.5,0.97)(23.6,1.03)
(23.8,1.04)(23.9,0.97)(24.1,1.01)(24.2,0.95)(24.4,1.03)(24.5,0.99)(24.7,1.05)(24.8,0.96)(25.0,1.02)(25.1,0.98)
(25.3,0.99)(25.4,1.05)(25.6,0.96)(25.7,1.02)(25.9,0.98)(26.0,1.04)(26.2,0.95)(26.3,1.01)(26.5,0.97)(26.6,1.03)
(26.8,1.04)(26.9,0.97)(27.1,1.01)(27.2,0.95)(27.4,1.03)(27.5,0.99)(27.7,1.05)(27.8,0.96)(28.0,1.02)(28.1,0.98)
(28.3,0.99)(28.4,1.05)(28.6,0.96)(28.7,1.02)(28.9,0.98)(29.0,1.04)(29.2,0.95)(29.3,1.01)(29.5,0.97)(29.6,1.03)
(29.8,1.04)(29.9,0.97)(30.1,1.01)(30.2,0.95)(30.4,1.03)(30.5,0.99)(30.7,1.05)(30.8,0.96)(31.0,1.02)(31.1,0.98)
(31.3,0.99)(31.4,1.05)(31.6,0.96)(31.7,1.02)(31.9,0.98)(32.0,1.04)(32.2,0.95)(32.3,1.01)(32.5,0.97)(32.6,1.03)
(32.8,1.04)(32.9,0.97)(33.1,1.01)(33.2,0.95)(33.4,1.03)(33.5,0.99)(33.7,1.05)(33.8,0.96)(34.0,1.02)(34.1,0.98)
(34.3,0.99)(34.5,1.05)(34.8,0.96)(35.0,1.02)(35.3,0.98)(35.5,1.04)(35.8,0.95)(36.0,1.01)(36.3,0.97)(36.6,1.03)
(37.0,0.98)(37.3,1.03)(37.7,0.96)(38.0,1.01)(38.3,0.97)(38.6,1.00)(39.0,0.96)(39.3,1.02)(39.6,0.98)(40.0,0.97)(40.3,1.04)(40.7,0.97)(41.0,1.00)(41.3,1.05)(41.7,1.03)(42.0,0.99)(42.3,1.04)(42.6,1.02)(43.0,0.98)(43.3,1.04)(43.7,1.01)(44.0,1.03)(44.4,0.99)(44.8,1.05)(45.0,1.02)(45.2,0.98)(45.6,0.96)(46.0,1.03)
(46.7,1.00)(47.5,1.03)(48.0,0.98)(48.4,1.03)(48.8,1.02)(50.0,1.03)(50.1,0.97)(50.3,1.00)(51.1,0.96)(52.0,0.96)(53.0,1.04)(53.3,1.03)(56.1,1.03)(56.2,1.00)(56.1,0.97)(57.9,0.95)(59.0,1.01)(60.2,0.95)};
\addplot[pts] coordinates {(12.05,1.02)(12.25,0.96)(12.45,1.04)(12.65,0.98)(12.85,1.01)(13.05,0.95)(13.25,1.03)(13.45,0.99)(13.65,1.05)(13.85,0.97)
(14.05,0.99)(14.25,1.04)(14.45,0.96)(14.65,1.02)(14.85,0.98)(15.05,1.05)(15.25,0.97)(15.45,1.01)(15.65,0.95)(15.85,1.03)
(16.05,1.02)(16.25,0.96)(16.45,1.04)(16.65,0.98)(16.85,1.01)(17.05,0.95)(17.25,1.03)(17.45,0.99)(17.65,1.05)(17.85,0.97)
(18.05,0.99)(18.25,1.04)(18.45,0.96)(18.65,1.02)(18.85,0.98)(19.05,1.05)(19.25,0.97)(19.45,1.01)(19.65,0.95)(19.85,1.03)
(20.05,1.02)(20.25,0.96)(20.45,1.04)(20.65,0.98)(20.85,1.01)(21.05,0.95)(21.25,1.03)(21.45,0.99)(21.65,1.05)(21.85,0.97)
(22.05,0.99)(22.25,1.04)(22.45,0.96)(22.65,1.02)(22.85,0.98)(23.05,1.05)(23.25,0.97)(23.45,1.01)(23.65,0.95)(23.85,1.03)
(24.05,1.02)(24.25,0.96)(24.45,1.04)(24.65,0.98)(24.85,1.01)(25.05,0.95)(25.25,1.03)(25.45,0.99)(25.65,1.05)(25.85,0.97)
(26.05,0.99)(26.25,1.04)(26.45,0.96)(26.65,1.02)(26.85,0.98)(27.05,1.05)(27.25,0.97)(27.45,1.01)(27.65,0.95)(27.85,1.03)
(28.05,1.02)(28.25,0.96)(28.45,1.04)(28.65,0.98)(28.85,1.01)(29.05,0.95)(29.25,1.03)(29.45,0.99)(29.65,1.05)(29.85,0.97)
(30.05,0.99)(30.25,1.04)(30.45,0.96)(30.65,1.02)(30.85,0.98)(31.05,1.05)(31.25,0.97)(31.45,1.01)(31.65,0.95)(31.85,1.03)
(32.05,1.02)(32.25,0.96)(32.45,1.04)(32.65,0.98)(32.85,1.01)(33.05,0.95)(33.25,1.03)(33.45,0.99)(33.65,1.05)(33.85,0.97)
(34.05,0.99)(34.25,1.04)(34.45,0.96)(34.65,1.02)(34.85,0.98)(35.05,1.05)(35.25,0.97)(35.45,1.01)(35.65,0.95)(35.85,1.03)
(36.05,1.02)(36.25,0.96)(36.45,1.04)};
\addplot[pts] coordinates {(3.6,0.02)(5.1,0.00)(9.9,-0.03)(11.1,-0.01)(11.9,-0.05)(12.2,0.02)(12.3,0.03)(12.8,-0.03)(13.1,-0.04)(13.6,0.04)(13.9,0.03)(14.2,0.01)(14.4,0.03)(14.8,0.03)(15.0,-0.04)(15.1,0.00)(16.1,0.00)(17.0,-0.01)(17.2,0.02)(17.4,-0.03)(17.6,0.03)(18.9,0.04)(19.1,0.03)(19.4,-0.02)(19.6,0.01)(19.9,0.02)(20.2,-0.04)(20.6,-0.04)(20.9,-0.03)(21.3,0.04)(22.2,0.01)(22.8,0.03)(23.1,0.00)(23.7,0.04)(24.3,-0.02)(25.1,0.03)(25.3,-0.03)(26.5,0.03)(27.8,0.03)(27.9,-0.04)(28.2,-0.05)(28.5,0.00)(28.9,0.03)(29.3,-0.04)(29.8,0.04)(30.0,-0.05)(30.5,0.01)(30.8,-0.04)(31.4,0.01)(31.9,-0.02)(32.1,0.00)(32.6,-0.03)(33.2,0.04)(33.6,-0.02)(34.1,-0.02)(35.1,0.01)(35.3,-0.03)(35.9,0.00)(36.6,-0.05)(38.8,0.02)(38.9,0.04)(39.9,-0.05)(40.3,-0.02)(41.8,0.00)(42.0,-0.03)(42.3,0.01)(42.9,0.03)(43.4,0.00)(43.8,-0.03)(44.3,-0.02)(44.9,0.04)(45.0,0.04)(47.7,0.01)(48.3,-0.05)(50.0,0.05)(52.1,0.01)(56.2,0.01)(56.8,0.04)(56.8,-0.05)(58.2,0.01)(60.3,-0.05)};
\addplot[fit] coordinates {(4,0.835)(10,0.846)(20,0.855)(30,0.852)(40,0.832)(45,0.815)(50,0.795)(55,0.768)(60,0.731)};
\end{axis}
% ---------------- Panel 6: Flu shots (Men)
\begin{axis}[panel, name=p6, at={(330.65pt,37.5pt)}, xmin=1.07, xmax=62.96]
\addplot[band] coordinates {(4,0.818)(10,0.80)(20,0.771)(30,0.758)(40,0.749)(50,0.754)(60,0.761)(60,0.409)(50,0.469)(40,0.521)(30,0.558)(20,0.573)(10,0.568)(4,0.564)};
\addplot[pts] coordinates {(3.9,0.97)(4.8,1.00)(4.9,1.01)(8.6,0.98)(9.1,1.04)
(11.6,1.03)(11.8,0.96)(12.0,1.00)(12.2,1.05)(12.4,0.97)(12.6,1.02)(12.8,0.95)(13.0,1.04)(13.2,0.99)(13.4,1.01)
(13.6,0.97)(13.8,1.04)(14.0,0.95)(14.2,1.01)(14.4,1.03)(14.6,0.98)(14.8,1.05)(15.0,0.96)(15.2,1.02)(15.4,0.99)
(15.6,1.03)(15.8,0.96)(16.0,1.00)(16.2,1.05)(16.4,0.97)(16.6,1.02)(16.8,0.95)(17.0,1.04)(17.2,0.99)(17.4,1.01)
(17.6,0.97)(17.8,1.04)(18.0,0.95)(18.2,1.01)(18.4,1.03)(18.6,0.98)(18.8,1.05)(19.0,0.96)(19.2,1.02)(19.4,0.99)
(19.6,1.03)(19.8,0.96)(20.0,1.00)(20.2,1.05)(20.4,0.97)(20.6,1.02)(20.8,0.95)(21.0,1.04)(21.2,0.99)(21.4,1.01)
(21.6,0.97)(21.8,1.04)(22.0,0.95)(22.2,1.01)(22.4,1.03)(22.6,0.98)(22.8,1.05)(23.0,0.96)(23.2,1.02)(23.4,0.99)
(23.6,1.03)(23.8,0.96)(24.0,1.00)(24.2,1.05)(24.4,0.97)(24.6,1.02)(24.8,0.95)(25.0,1.04)(25.2,0.99)(25.4,1.01)
(25.6,0.97)(25.8,1.04)(26.0,0.95)(26.2,1.01)(26.4,1.03)(26.6,0.98)(26.8,1.05)(27.0,0.96)(27.2,1.02)(27.4,0.99)
(27.6,1.03)(27.8,0.96)(28.0,1.00)(28.2,1.05)(28.4,0.97)(28.6,1.02)(28.8,0.95)(29.0,1.04)(29.2,0.99)(29.4,1.01)
(29.6,0.97)(29.8,1.04)(30.0,0.95)(30.2,1.01)(30.4,1.03)(30.6,0.98)(30.8,1.05)(31.0,0.96)(31.2,1.02)(31.4,0.99)
(31.6,1.03)(31.8,0.96)(32.0,1.00)(32.2,1.05)(32.4,0.97)(32.6,1.02)(32.8,0.95)(33.0,1.04)(33.2,0.99)(33.4,1.01)
(33.6,0.97)(33.8,1.04)(34.0,0.95)(34.2,1.01)(34.4,1.03)(34.6,0.98)(34.8,1.05)(35.0,0.96)(35.2,1.02)(35.4,0.99)
(35.6,1.03)(35.8,0.96)(36.0,1.00)(36.2,1.05)(36.4,0.97)(36.6,1.02)(36.8,0.95)(37.0,1.04)(37.2,0.99)(37.4,1.01)
(37.8,0.98)(38.2,1.02)(38.6,0.96)(39.0,1.04)(39.4,1.00)(39.8,0.97)(40.2,1.01)(40.6,1.03)(41.0,0.97)(41.5,1.02)(41.9,0.99)(42.3,1.03)(42.7,0.98)(43.1,1.04)(43.5,1.00)(43.9,0.96)(44.3,1.03)(44.7,1.05)(45.0,1.02)(45.4,0.99)(45.7,1.01)
(47.5,0.95)(47.9,1.01)(49.5,1.03)(49.8,0.95)(50.0,1.01)(51.4,0.99)(52.2,1.05)(52.5,1.05)(55.9,1.02)(56.0,0.99)(56.6,1.04)(57.1,0.99)(57.6,1.00)(58.4,0.99)(60.0,1.01)};
\addplot[pts] coordinates {(12.05,0.99)(12.25,1.04)(12.45,0.96)(12.65,1.02)(12.85,0.98)(13.05,1.05)(13.25,0.97)(13.45,1.01)(13.65,0.95)(13.85,1.03)
(14.05,1.02)(14.25,0.96)(14.45,1.04)(14.65,0.98)(14.85,1.01)(15.05,0.95)(15.25,1.03)(15.45,0.99)(15.65,1.05)(15.85,0.97)
(16.05,0.99)(16.25,1.04)(16.45,0.96)(16.65,1.02)(16.85,0.98)(17.05,1.05)(17.25,0.97)(17.45,1.01)(17.65,0.95)(17.85,1.03)
(18.05,1.02)(18.25,0.96)(18.45,1.04)(18.65,0.98)(18.85,1.01)(19.05,0.95)(19.25,1.03)(19.45,0.99)(19.65,1.05)(19.85,0.97)
(20.05,0.99)(20.25,1.04)(20.45,0.96)(20.65,1.02)(20.85,0.98)(21.05,1.05)(21.25,0.97)(21.45,1.01)(21.65,0.95)(21.85,1.03)
(22.05,1.02)(22.25,0.96)(22.45,1.04)(22.65,0.98)(22.85,1.01)(23.05,0.95)(23.25,1.03)(23.45,0.99)(23.65,1.05)(23.85,0.97)
(24.05,0.99)(24.25,1.04)(24.45,0.96)(24.65,1.02)(24.85,0.98)(25.05,1.05)(25.25,0.97)(25.45,1.01)(25.65,0.95)(25.85,1.03)
(26.05,1.02)(26.25,0.96)(26.45,1.04)(26.65,0.98)(26.85,1.01)(27.05,0.95)(27.25,1.03)(27.45,0.99)(27.65,1.05)(27.85,0.97)
(28.05,0.99)(28.25,1.04)(28.45,0.96)(28.65,1.02)(28.85,0.98)(29.05,1.05)(29.25,0.97)(29.45,1.01)(29.65,0.95)(29.85,1.03)
(30.05,1.02)(30.25,0.96)(30.45,1.04)(30.65,0.98)(30.85,1.01)(31.05,0.95)(31.25,1.03)(31.45,0.99)(31.65,1.05)(31.85,0.97)
(32.05,0.99)(32.25,1.04)(32.45,0.96)(32.65,1.02)(32.85,0.98)(33.05,1.05)(33.25,0.97)(33.45,1.01)(33.65,0.95)(33.85,1.03)
(34.05,1.02)(34.25,0.96)(34.45,1.04)(34.65,0.98)(34.85,1.01)(35.05,0.95)(35.25,1.03)(35.45,0.99)(35.65,1.05)(35.85,0.97)
(36.05,0.99)(36.25,1.04)(36.45,0.96)(36.65,1.02)(36.85,0.98)(37.05,1.05)(37.25,0.97)};
\addplot[pts] coordinates {(3.6,-0.02)(10.0,-0.02)(10.7,0.02)(11.7,0.03)(12.1,-0.03)(12.4,0.01)(12.8,-0.04)(13.1,0.03)(13.4,-0.01)(13.7,0.04)(14.0,0.02)(14.3,-0.03)(14.6,0.03)(15.0,0.01)(15.4,-0.02)(15.8,0.04)(16.1,0.03)(16.4,-0.02)(16.7,0.00)(17.0,0.03)(17.3,-0.03)(17.6,0.02)(17.9,-0.04)(18.2,0.00)(18.6,-0.04)(18.9,-0.05)(19.2,0.04)(19.5,0.02)(19.8,-0.03)(20.1,0.03)(20.4,-0.01)(20.7,0.02)(21.0,-0.04)(21.3,0.03)(21.7,0.00)(22.1,-0.02)(22.5,0.01)(22.9,0.03)(23.2,-0.04)(23.5,0.04)(23.8,0.02)(24.1,-0.01)(24.4,-0.03)(24.8,0.00)(25.2,0.05)(25.6,0.01)(26.0,0.03)(26.5,-0.02)(26.9,0.04)(27.3,0.01)(27.6,-0.05)(27.9,0.02)(28.2,-0.03)(28.5,0.00)(28.8,-0.02)(29.1,0.04)(29.4,0.01)(29.7,-0.04)(30.0,0.05)(30.3,0.00)(30.6,-0.02)(30.9,0.03)(31.2,-0.04)(31.5,0.01)(31.8,0.05)(32.1,0.04)(32.4,-0.01)(32.7,0.03)(33.0,-0.03)(33.3,0.02)(33.6,0.04)(33.9,-0.02)(34.2,0.01)(34.5,-0.04)(34.8,0.00)(35.1,0.03)(35.5,-0.02)(35.9,-0.04)(36.2,0.00)(36.6,0.02)(37.0,0.03)(37.4,-0.01)
(38.8,-0.02)(39.3,0.02)(39.8,0.03)(40.1,0.03)(40.8,0.03)(41.7,-0.02)(42.1,0.02)(42.6,-0.02)(42.9,0.03)(43.2,-0.01)(44.1,0.03)(44.5,0.04)(44.6,-0.04)(45.5,-0.01)(46.8,-0.02)(47.6,0.01)(49.9,-0.03)(50.1,-0.02)(51.9,-0.04)(52.8,-0.03)(55.9,0.01)(58.0,-0.03)(60.1,0.00)};
\addplot[fit] coordinates {(4,0.708)(10,0.698)(20,0.681)(30,0.661)(40,0.642)(50,0.621)(60,0.598)};
\end{axis}
% ---------------- titles and labels
\node[ttl, text=titlered] at ([yshift=8pt]p1.north west) {Mammograms (Women)};
\node[ttl, text=titlered] at ([yshift=8pt]p2.north west) {Cholesterol screenings (Women)};
\node[ttl] at ([yshift=8pt]p3.north west) {Pap smears (Women)};
\node[ttl] at ([yshift=8pt]p4.north west) {Flu shots (Women)};
\node[ttl] at ([yshift=8pt]p5.north west) {Cholesterol screenings (Men)};
\node[ttl] at ([yshift=8pt]p6.north west) {Flu shots (Men)};
\foreach \p in {p1,p2,p3,p4,p5,p6}{
  \node[ylab] at ([xshift=-31.7pt]\p.west) {Probability};
}
\node[anchor=base, inner sep=0pt, font=\fontsize{11}{13}\selectfont] at ([yshift=-24.2pt]p5.south) {Total procrastination};
\node[anchor=base, inner sep=0pt, font=\fontsize{11}{13}\selectfont] at ([yshift=-24.2pt]p6.south) {Total procrastination};
\end{tikzpicture}
\end{document}
